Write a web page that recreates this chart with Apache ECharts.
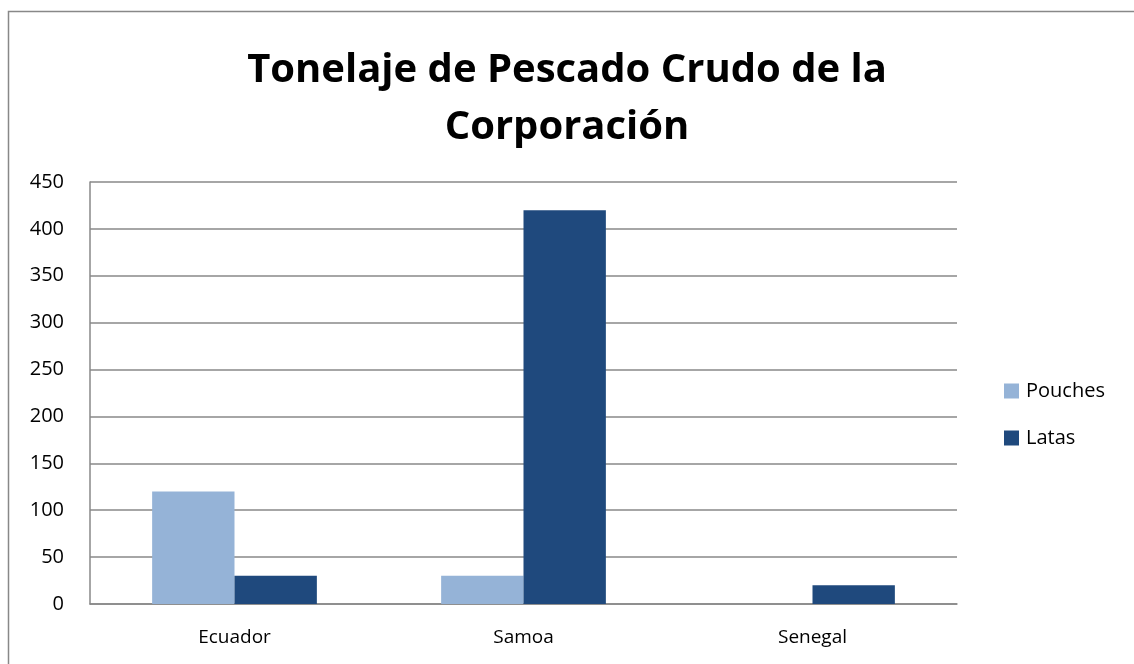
<!DOCTYPE html>
<html><head><meta charset="utf-8">
<script src="https://cdn.jsdelivr.net/npm/echarts@6/dist/echarts.min.js"></script>
<style>html,body{margin:0;padding:0;background:#fff}#c{width:1134px;height:664px}</style>
</head><body><div id="c"></div>
<script>
var categories = ['Ecuador', 'Samoa', 'Senegal'];
var pouches = [120, 30, 0];
var latas = [30, 420, 20];
var yTicks = [0, 50, 100, 150, 200, 250, 300, 350, 400, 450];
var titleText = 'Tonelaje de Pescado Crudo de la\nCorporación';

var font = '"Open Sans", "Noto Sans", sans-serif';
var chart = echarts.init(document.getElementById('c'));
chart.setOption({
  animation: false,
  graphic: [{type:'rect', shape:{x:8.5,y:11.5,width:1130,height:660}, style:{fill:'none', stroke:'#888', lineWidth:1.5}}],
  title: {
    text: titleText, left: 'center', top: 37,
    textStyle: {fontFamily: font, fontWeight: 'bold', fontSize: 40, lineHeight: 57, color: '#000'}
  },
  legend: {
    orient: 'vertical', left: 999, top: 376, itemGap: 27, itemWidth: 15, itemHeight: 15,
    icon: 'rect',
    textStyle: {fontFamily: font, fontSize: 20, color: '#000', padding: [0,0,0,2]}
  },
  grid: {left: 90, right: 177, top: 182, bottom: 60, containLabel: false},
  xAxis: {
    type: 'category', data: categories,
    axisLine: {lineStyle: {color: '#888', width: 1.5}},
    axisTick: {show: false},
    axisLabel: {fontFamily: font, fontSize: 19, color: '#000', margin: 24}
  },
  yAxis: {
    type: 'value', min: yTicks[0], max: yTicks[yTicks.length-1], interval: 50,
    axisLine: {show: true, lineStyle: {color: '#888', width: 1.5}},
    splitLine: {lineStyle: {color: '#888', width: 1.5}},
    axisTick: {show: false},
    axisLabel: {fontFamily: font, fontSize: 20, color: '#000', margin: 26}
  },
  series: [
    {name: 'Pouches', type: 'bar', data: pouches, barGap: '0%', barCategoryGap: '43%',
     itemStyle: {color: '#95b3d7'}},
    {name: 'Latas', type: 'bar', data: latas, barGap: '0%', barCategoryGap: '43%',
     itemStyle: {color: '#1f497d'}}
  ]
});
</script></body></html>
